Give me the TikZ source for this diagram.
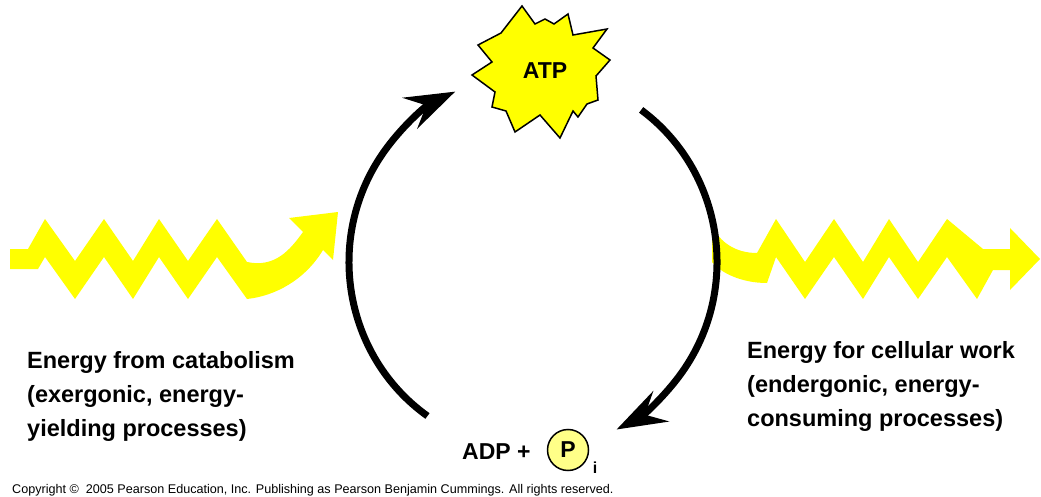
\documentclass[tikz,border=0pt]{standalone}
\usepackage{fontspec}
\setmainfont{Liberation Sans}
\usetikzlibrary{arrows.meta}

\definecolor{zapyellow}{RGB}{255,255,0}
\definecolor{pyellow}{RGB}{255,255,136}

\tikzset{
  cycarrow/.style={line width=7pt, -{Stealth[length=50pt, width=34pt, inset=18pt]}},
  energy/.style={fill=zapyellow, draw=none},
  caption/.style={font=\bfseries\fontsize{23.5}{34}\selectfont, align=left, inner sep=0pt, anchor=north west},
}

\begin{document}
\begin{tikzpicture}[x=1pt, y=1pt]
\useasboundingbox (0,0) rectangle (1041,496);

% energy in
\fill[energy] (10,247) -- (28,247) -- (45,277) -- (75,235) -- (104,277) -- (133,235)
  -- (159,277) -- (188,235) -- (217,277) -- (247,234)
  .. controls (275,228) and (290,246) .. (303,264)
  -- (289,278) -- (338,284) -- (333,236) -- (323,246)
  .. controls (305,216) and (275,200) .. (247,197)
  -- (217,239) -- (188,197) -- (159,239) -- (133,197) -- (104,239) -- (75,197)
  -- (45,239) -- (38,227) -- (10,227) -- cycle;

% energy out
\fill[energy] (712,270) .. controls (720,254) and (735,243) .. (757,243)
  -- (776,277) -- (805,234) -- (834,277) -- (863,234) -- (889,277) -- (918,234)
  -- (947,277) -- (983,247) -- (1010,247) -- (1010,268) -- (1040,237)
  -- (1010,206) -- (1010,226) -- (993,226) -- (977,197) -- (947,239) -- (918,197)
  -- (889,239) -- (863,197) -- (834,239) -- (805,197) -- (776,239) -- (767,213)
  .. controls (740,213) and (720,224) .. (712,234) -- cycle;

% ATP burst
\draw[fill=zapyellow, line width=1.5pt, line join=miter]
  (522,490) -- (535,472) -- (545,477) -- (554,472) -- (568,482) -- (573,461)
  -- (607,467) -- (593,448) -- (610,436) -- (596,420) -- (598,396) -- (587,392)
  -- (578,379) -- (573,385) -- (560,358) -- (540,381) -- (515,364) -- (506,385)
  -- (492,389) -- (495,404) -- (472,421) -- (492,434) -- (478,451) -- (501,463) -- cycle;
\node[font=\bfseries\fontsize{23}{23}\selectfont] (atp) at (545,425) {ATP};

% cycle
\coordinate (cyc) at (533,234);
\coordinate (adp-out) at ([shift={(235:184pt and 188pt)}]cyc);
\coordinate (atp-out) at ([shift={(54:184pt and 188pt)}]cyc);
\draw[cycarrow] (adp-out) arc[start angle=235, end angle=115, x radius=184pt, y radius=188pt];
\draw[cycarrow] (atp-out) arc[start angle=54, end angle=-63, x radius=184pt, y radius=188pt];

\node[caption] (catab) at (27,145) {Energy from catabolism\\(exergonic, energy-\\yielding processes)};
\node[caption] (work) at (747,155) {Energy for cellular work\\(endergonic, energy-\\consuming processes)};

\node[font=\bfseries\fontsize{23}{23}\selectfont, anchor=base west, inner sep=0pt] (adp) at (462,37) {ADP +};
\node[circle, draw, fill=pyellow, line width=1.5pt, minimum size=41pt, inner sep=0pt,
  font=\bfseries\fontsize{23}{23}\selectfont] (pi) at (568,46) {P};
\node[anchor=base, inner sep=0pt, font=\bfseries\fontsize{16}{16}\selectfont] (pisub) at (595,23) {i};

\node[anchor=base west, inner sep=0pt, font=\fontsize{12.6}{13}\selectfont] (copy) at (12,3)
  {Copyright ©\ \ 2005 Pearson Education, Inc. Publishing as Pearson Benjamin Cummings. All rights reserved.};
\end{tikzpicture}
\end{document}
